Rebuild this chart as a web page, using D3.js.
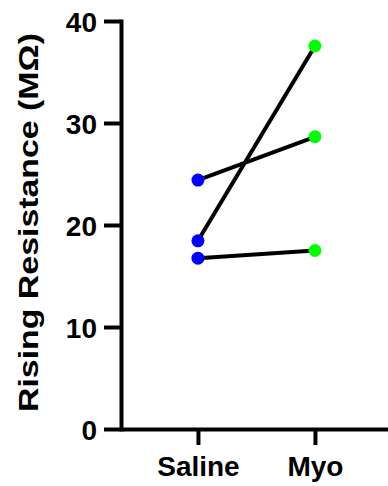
<!DOCTYPE html>
<html>
<head>
<meta charset="utf-8">
<script src="https://cdn.jsdelivr.net/npm/d3@7"></script>
<style>
  html, body { margin: 0; padding: 0; background: #fff; }
  svg { display: block; }
  text { font-family: "Liberation Sans", Arial, sans-serif; font-weight: bold; fill: #000; }
</style>
</head>
<body>
<svg id="chart" width="388" height="486"></svg>
<script>
const categories = ["Saline", "Myo"];
const salineValues = [24.4, 18.45, 16.75];
const myoValues = [28.65, 37.55, 17.5];
const yTicks = [0, 10, 20, 30, 40];
const yLabel = "Rising Resistance (MΩ)";

const svg = d3.select("#chart");
const x = d3.scalePoint().domain(categories).range([121, 388]).padding(0.641).align(0.513);
const y = d3.scaleLinear().domain([0, 40]).range([429, 21]);

// Y axis
const yAxis = svg.append("g").attr("transform", "translate(121,0)")
  .call(d3.axisLeft(y).tickValues(yTicks).tickSize(17).tickSizeOuter(0).tickPadding(7));
yAxis.select(".domain").attr("stroke", "#000").attr("stroke-width", 4).attr("stroke-linecap", "square");
yAxis.selectAll(".tick line").attr("stroke", "#000").attr("stroke-width", 4);
yAxis.selectAll(".tick text").attr("font-size", 28).attr("dy", "0.38em")
  .style("font-family", "'Liberation Sans', Arial, sans-serif").style("font-weight", "bold").attr("fill", "#000");

// X axis
const xAxis = svg.append("g").attr("transform", "translate(0,429)")
  .call(d3.axisBottom(x).tickSize(16).tickSizeOuter(0).tickPadding(11));
xAxis.select(".domain").attr("stroke", "#000").attr("stroke-width", 4);
xAxis.selectAll(".tick line").attr("stroke", "#000").attr("stroke-width", 4);
xAxis.selectAll(".tick text").attr("font-size", 28).attr("dy", "0.71em")
  .style("font-family", "'Liberation Sans', Arial, sans-serif").style("font-weight", "bold").attr("fill", "#000");

// Y label (glyphs stretched along the reading direction, as in the reference)
svg.append("text")
  .attr("transform", "translate(38,222.5) rotate(-90) scale(1.21,1)")
  .attr("text-anchor", "middle")
  .attr("font-size", 28)
  .text(yLabel);

// Pair lines
const pairs = salineValues.map((s, i) => [s, myoValues[i]]);
svg.append("g").selectAll("line").data(pairs).join("line")
  .attr("x1", x("Saline")).attr("x2", x("Myo"))
  .attr("y1", d => y(d[0])).attr("y2", d => y(d[1]))
  .attr("stroke", "#000").attr("stroke-width", 4);

// Dots
svg.append("g").selectAll("circle").data(salineValues).join("circle")
  .attr("cx", x("Saline")).attr("cy", d => y(d)).attr("r", 6.5).attr("fill", "#0000ff");
svg.append("g").selectAll("circle").data(myoValues).join("circle")
  .attr("cx", x("Myo")).attr("cy", d => y(d)).attr("r", 6.5).attr("fill", "#00ff00");
</script>
</body>
</html>
